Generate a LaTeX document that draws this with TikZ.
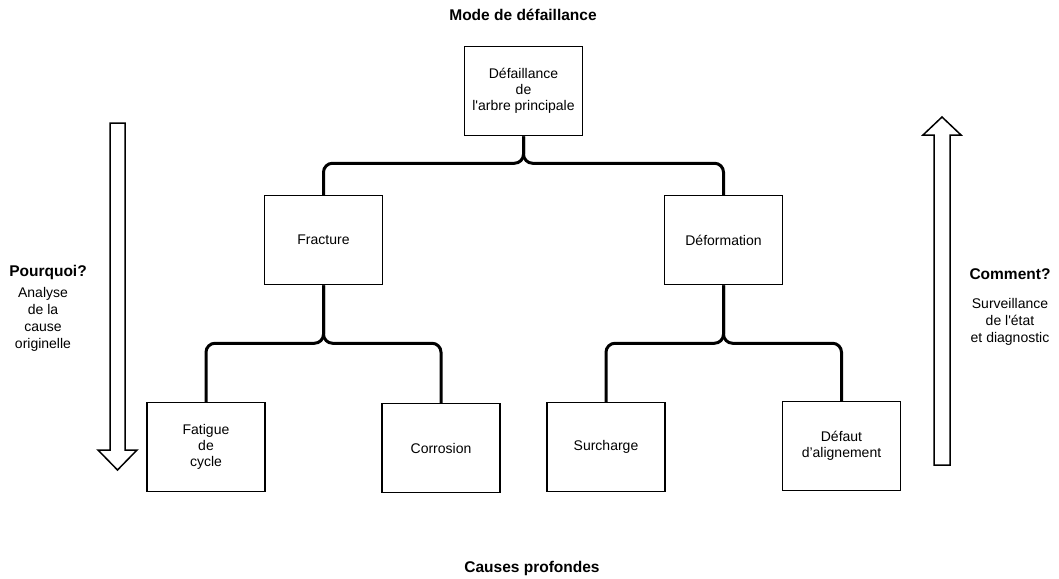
\documentclass[tikz,border=0pt]{standalone}
\usepackage{fontspec}
\setmainfont{Liberation Sans}
\tikzset{
  failbox/.style={draw, line width=1.5pt, minimum width=118pt, minimum height=89pt, align=center, inner sep=2pt, font=\fontsize{14}{16}\selectfont},
  branch/.style={line width=3pt, rounded corners=9pt},
  heading/.style={font=\fontsize{15.5}{18}\selectfont\bfseries},
  note/.style={align=center, font=\fontsize{14}{17}\selectfont},
  bigarrow/.style={draw, line width=1.5pt, fill=white, line join=miter}
}

\begin{document}
\begin{tikzpicture}[x=1pt,y=-1pt]
\useasboundingbox (0,0) rectangle (1059,578);
\node[heading] (mode) at (523,15) {Mode de défaillance};
\node[heading] (causes) at (532,568) {Causes profondes};
\node[failbox] (arbre) at (523.5,91) {Défaillance\\de\\l\textquotesingle arbre principale};
\node[failbox] (fracture) at (323.5,240) {Fracture};
\node[failbox] (deformation) at (723.5,240) {Déformation};
\node[failbox] (fatigue) at (206,447) {Fatigue\\de\\cycle};
\node[failbox] (corrosion) at (441,448) {Corrosion};
\node[failbox] (surcharge) at (606,447) {Surcharge};
\node[failbox] (defaut) at (841.5,446) {Défaut\\d'alignement};
\draw[branch] (arbre.south) -- ++(0,27) -| (fracture.north);
\draw[branch] (arbre.south) -- ++(0,27) -| (deformation.north);
\draw[branch] (fracture.south) -- ++(0,58) -| (fatigue.north);
\draw[branch] (fracture.south) -- ++(0,58) -| (corrosion.north);
\draw[branch] (deformation.south) -- ++(0,58) -| (surcharge.north);
\draw[branch] (deformation.south) -- ++(0,58) -| (defaut.north);
\draw[bigarrow] (110,123) -- (125,123) -- (125,450) -- (137,450) -- (117.5,470) -- (98,450) -- (110,450) -- cycle;
\draw[bigarrow] (934,465) -- (950,465) -- (950,135) -- (961,135) -- (942,117) -- (923,135) -- (934,135) -- cycle;
\node[heading] (pourquoi) at (48,272) {Pourquoi?};
\node[note] (analyse) at (43,319) {Analyse\\de la\\cause\\originelle};
\node[heading] (comment) at (1010,274) {Comment?};
\node[note] (surveillance) at (1010,322) {Surveillance\\de l\textquotesingle état\\et diagnostic};
\end{tikzpicture}
\end{document}
